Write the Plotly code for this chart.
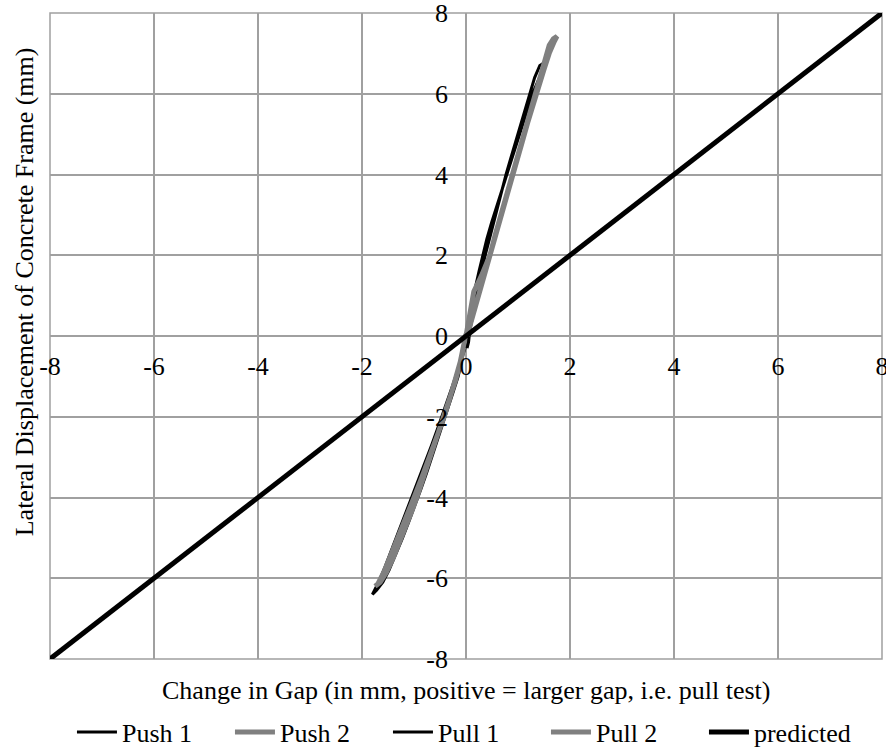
import plotly.graph_objects as go

# Measured hysteresis loops: change in gap (mm) vs lateral displacement (mm)
push1_x = [0.05, 0.0, -0.03, -0.08, -0.15, -0.25, -0.35, -0.45, -0.55, -0.65, -0.76, -0.87, -0.98,
           -1.10, -1.22, -1.35, -1.48, -1.60, -1.72, -1.80,
           -1.78, -1.68, -1.55, -1.40, -1.25, -1.10, -0.95, -0.80, -0.66, -0.52, -0.38, -0.25,
           -0.12, -0.04, 0.02, 0.05]
push1_y = [0.1, 0.0, -0.3, -0.6, -1.0, -1.4, -1.8, -2.2, -2.6, -3.0, -3.4, -3.8, -4.2,
           -4.6, -5.0, -5.4, -5.8, -6.1, -6.3, -6.4,
           -6.35, -6.1, -5.7, -5.2, -4.7, -4.2, -3.7, -3.2, -2.7, -2.2, -1.7, -1.2,
           -0.7, -0.4, -0.15, 0.0]

push2_x = [0.0, -0.05, -0.12, -0.20, -0.30, -0.40, -0.50, -0.60, -0.70, -0.80, -0.92, -1.03,
           -1.15, -1.28, -1.40, -1.53, -1.65, -1.75,
           -1.70, -1.58, -1.45, -1.30, -1.15, -1.00, -0.85, -0.70, -0.56, -0.42, -0.30, -0.18,
           -0.08, 0.0]
push2_y = [0.05, -0.3, -0.7, -1.1, -1.5, -1.9, -2.3, -2.7, -3.1, -3.5, -3.9, -4.3,
           -4.7, -5.1, -5.5, -5.85, -6.1, -6.2,
           -6.15, -5.85, -5.45, -5.0, -4.5, -4.0, -3.5, -3.0, -2.5, -2.0, -1.5, -1.0,
           -0.5, 0.0]

pull1_x = [0.05, 0.12, 0.18, 0.24, 0.30, 0.37, 0.45, 0.53, 0.60, 0.68, 0.77, 0.86, 0.95, 1.04,
           1.13, 1.22, 1.32, 1.42, 1.52,
           1.48, 1.38, 1.28, 1.18, 1.08, 0.98, 0.88, 0.78, 0.68, 0.58, 0.49, 0.40, 0.32, 0.25,
           0.18, 0.13, 0.09, 0.07, 0.05, 0.02]
pull1_y = [0.0, 0.4, 0.8, 1.2, 1.6, 2.0, 2.4, 2.8, 3.2, 3.6, 4.0, 4.4, 4.8, 5.2,
           5.6, 6.0, 6.4, 6.7, 6.78,
           6.6, 6.3, 6.0, 5.6, 5.2, 4.8, 4.4, 4.0, 3.6, 3.2, 2.8, 2.4, 2.0, 1.6,
           1.2, 0.8, 0.4, 0.1, -0.15, -0.3]

pull2_x = [0.0, 0.05, 0.10, 0.15, 0.30, 0.46, 0.56, 0.67, 0.77, 0.88, 0.99, 1.10, 1.22, 1.33,
           1.44, 1.52, 1.60, 1.68, 1.75,
           1.70, 1.60, 1.50, 1.40, 1.30, 1.19, 1.08, 0.97, 0.86, 0.75, 0.64, 0.53, 0.43, 0.34,
           0.26, 0.18, 0.12, 0.06, 0.02]
pull2_y = [0.0, 0.4, 0.8, 1.1, 1.5, 2.0, 2.5, 3.0, 3.5, 4.0, 4.5, 5.0, 5.5, 6.0,
           6.5, 6.9, 7.2, 7.36, 7.42,
           7.3, 7.0, 6.6, 6.2, 5.8, 5.3, 4.8, 4.3, 3.8, 3.3, 2.8, 2.3, 1.9, 1.5,
           1.1, 0.7, 0.4, 0.15, 0.0]

# Predicted relationship (1:1)
pred_x = [-8, 8]
pred_y = [-8, 8]

tick_vals = [-8, -6, -4, -2, 0, 2, 4, 6, 8]
tick_text = ["-8", "-6", "-4", "-2", "0", "2", "4", "6", "8"]

FONT = "Liberation Serif, Times New Roman, serif"
FS = 26
BLACK = "#000000"
GRAY = "#808080"
GRID = "#A0A0A0"

fig = go.Figure()
fig.add_trace(go.Scatter(x=push1_x, y=push1_y, mode="lines", name="Push 1",
                         line=dict(color=BLACK, width=3)))
fig.add_trace(go.Scatter(x=push2_x, y=push2_y, mode="lines", name="Push 2",
                         line=dict(color=GRAY, width=5)))
fig.add_trace(go.Scatter(x=pull1_x, y=pull1_y, mode="lines", name="Pull 1",
                         line=dict(color=BLACK, width=3)))
fig.add_trace(go.Scatter(x=pull2_x, y=pull2_y, mode="lines", name="Pull 2",
                         line=dict(color=GRAY, width=5)))
fig.add_trace(go.Scatter(x=pred_x, y=pred_y, mode="lines", name="predicted",
                         line=dict(color=BLACK, width=5)))

axis_common = dict(
    range=[-8, 8],
    tickmode="array",
    tickvals=tick_vals,
    ticktext=tick_text,
    showgrid=True,
    gridcolor=GRID,
    gridwidth=1.5,
    zeroline=True,
    zerolinecolor=GRID,
    zerolinewidth=1.5,
    showline=False,
    ticks="",
    anchor="free",
    position=0.5,
    tickfont=dict(family=FONT, size=FS, color=BLACK),
    ticklabeloverflow="allow",
)

fig.update_layout(
    width=886,
    height=748,
    margin=dict(l=50, r=4, t=13, b=89, autoexpand=False),
    paper_bgcolor="white",
    plot_bgcolor="white",
    font=dict(family=FONT, size=FS, color=BLACK),
    xaxis=dict(**axis_common, ticklabelstandoff=12),
    yaxis=dict(**axis_common, ticklabelstandoff=18),
    showlegend=True,
    legend=dict(
        orientation="h",
        x=0.0264, xanchor="left",
        y=-0.113, yanchor="middle",
        font=dict(family=FONT, size=FS, color=BLACK),
        itemwidth=40,
        entrywidth=103,
        bgcolor="rgba(0,0,0,0)",
        traceorder="normal",
    ),
    shapes=[dict(type="rect", xref="paper", yref="paper", x0=0, y0=0, x1=1, y1=1,
                 line=dict(color=GRID, width=1.5), layer="below")],
    annotations=[
        dict(text="Change in Gap (in mm, positive = larger gap, i.e. pull test)",
             xref="paper", yref="paper", x=0.5, y=-0.048, xanchor="center", yanchor="middle",
             showarrow=False, font=dict(family=FONT, size=FS, color=BLACK)),
        dict(text="Lateral Displacement of Concrete Frame (mm)",
             xref="paper", yref="paper", x=-0.031, y=0.568, xanchor="center", yanchor="middle",
             textangle=-90, showarrow=False, font=dict(family=FONT, size=FS, color=BLACK)),
    ],
)

fig.write_html("out.html")
